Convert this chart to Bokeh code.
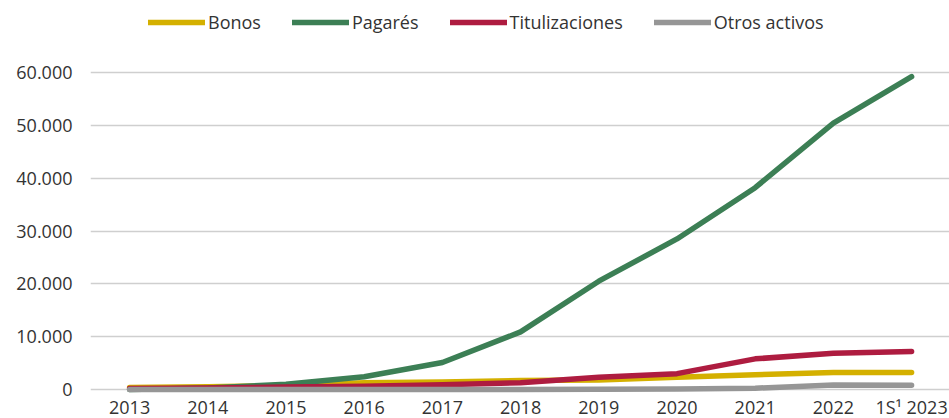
from bokeh.plotting import figure
from bokeh.models import Legend, LegendItem, FixedTicker, Range1d
from bokeh.core.properties import value
from bokeh.embed import file_html
from bokeh.resources import INLINE

categories = ["2013", "2014", "2015", "2016", "2017", "2018", "2019", "2020", "2021", "2022", "1S¹ 2023"]
bonos = [400, 500, 750, 1300, 1400, 1700, 1800, 2300, 2800, 3200, 3200]
pagares = [0, 300, 1000, 2400, 5100, 10900, 20500, 28500, 38200, 50400, 59200]
titulizaciones = [200, 300, 450, 600, 900, 1300, 2300, 3000, 5800, 6850, 7200]
otros_activos = [0, 0, 0, 0, 0, 0, 50, 100, 250, 850, 800]
series_names = ["Bonos", "Pagarés", "Titulizaciones", "Otros activos"]
y_ticks = [0, 10000, 20000, 30000, 40000, 50000, 60000]
y_tick_labels = ["0", "10.000", "20.000", "30.000", "40.000", "50.000", "60.000"]

colors = ["#D4B000", "#3C7F55", "#AE1C40", "#969696"]
FONT = "Open Sans"

xs = list(range(len(categories)))

p = figure(width=949, height=418, output_backend="svg", toolbar_location=None,
           x_range=Range1d(-0.5, 10.485), y_range=Range1d(-5489, 73628),
           min_border_left=90, min_border_right=0, min_border_top=0, min_border_bottom=0)
p.outline_line_color = None
p.background_fill_color = "white"
p.border_fill_color = "white"

p.xgrid.grid_line_color = None
p.ygrid.grid_line_color = "#CFCFCF"
p.ygrid.grid_line_width = 1.6
p.ygrid.ticker = FixedTicker(ticks=y_ticks)

p.xaxis.visible = False

ax = p.yaxis[0]
ax.axis_line_color = None
ax.major_tick_line_color = None
ax.minor_tick_line_color = None
ax.major_tick_out = 0
ax.major_tick_in = 0
ax.minor_tick_out = 0
ax.minor_tick_in = 0
ax.major_label_text_font = FONT
ax.major_label_text_font_size = "18px"
ax.major_label_text_color = "#333333"
ax.ticker = FixedTicker(ticks=y_ticks)
ax.major_label_overrides = {t: l for t, l in zip(y_ticks, y_tick_labels)}
ax.major_label_standoff = 18

# category labels below the zero line, positioned through the plot's scales
p.text(x=xs, y=[0] * len(xs), text=categories, text_align="center", text_baseline="alphabetic",
       y_offset=18, text_font=value(FONT), text_font_size="18px", text_color="#333333")

data = [bonos, pagares, titulizaciones, otros_activos]
renderers = []
for vals, col in zip(data, colors):
    r = p.line(xs, vals, line_color=col, line_width=5.5, line_cap="round", line_join="round")
    renderers.append(r)

items = [LegendItem(label=n, renderers=[r]) for n, r in zip(series_names, renderers)]
legend = Legend(items=items, orientation="horizontal",
                glyph_width=57, glyph_height=20, label_standoff=3, spacing=31,
                padding=0, margin=0, border_line_color=None, background_fill_alpha=0,
                label_text_font=FONT, label_text_font_size="18px", label_text_color="#333333")
p.add_layout(legend, "center")
legend.location = (58, 384)

open("out.html", "w").write(file_html(p, INLINE))
